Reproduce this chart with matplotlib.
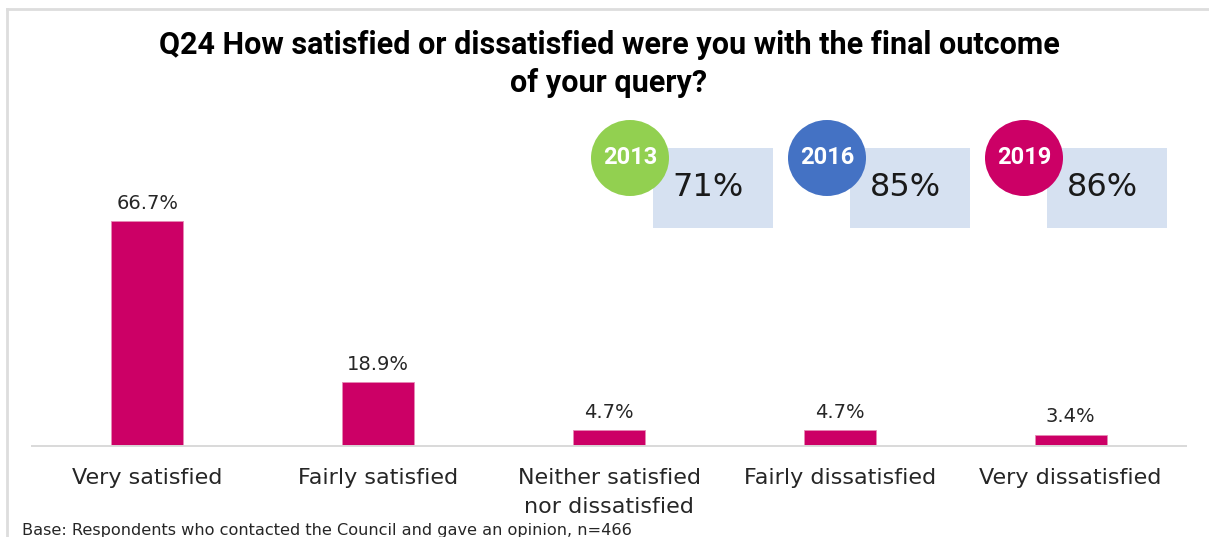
import matplotlib
matplotlib.use('Agg')
import matplotlib.pyplot as plt
from matplotlib.patches import Ellipse, Rectangle

categories = ['Very satisfied', 'Fairly satisfied', 'Neither satisfied\nnor dissatisfied',
              'Fairly dissatisfied', 'Very dissatisfied']
values = [66.7, 18.9, 4.7, 4.7, 3.4]

years = ['2013', '2016', '2019']
year_totals = ['71%', '85%', '86%']
year_colors = ['#92D050', '#4472C4', '#CC0066']

title = 'Q24 How satisfied or dissatisfied were you with the final outcome\nof your query?'
base_note = 'Base: Respondents who contacted the Council and gave an opinion, n=466'

W, H = 1209, 537
fig = plt.figure(figsize=(W / 100, H / 100), dpi=100, facecolor='white')

# bar chart area (pixel layout converted to figure fractions)
ax = fig.add_axes([32 / W, 1 - 446 / H, 1154 / W, 253 / H])
ax.bar(range(len(values)), values, width=0.312, color='#CC0066',
       edgecolor='#E58AB5', linewidth=0.6, zorder=2)
for i, v in enumerate(values):
    ax.annotate(f'{v:.1f}%', (i, v), xytext=(0, 6), textcoords='offset points',
                ha='center', va='bottom', fontsize=14, color='#262626',
                family='DejaVu Sans')
ax.set_xlim(-0.5, len(values) - 0.5)
ax.set_ylim(0, 75)
ax.set_xticks(range(len(categories)))
ax.set_xticklabels(categories, fontsize=16, color='#262626', family='DejaVu Sans',
                   linespacing=1.55)
ax.tick_params(axis='x', length=0, pad=16)
ax.set_yticks([])
for s in ['top', 'right', 'left']:
    ax.spines[s].set_visible(False)
ax.spines['bottom'].set_color('#D9D9D9')
ax.spines['bottom'].set_linewidth(1.4)
ax.patch.set_alpha(0)

# overlay in pixel coordinates for frame, title and the yearly badges
ov = fig.add_axes([0, 0, 1, 1])
ov.set_xlim(0, W)
ov.set_ylim(H, 0)
ov.axis('off')
ov.plot([7, W], [8.5, 8.5], color='#DDDDDD', lw=2)
ov.plot([7, 7], [8.5, H], color='#DDDDDD', lw=2)

ov.text(609, 64, title, ha='center', va='center', fontsize=22, fontweight='bold',
        family='Roboto', color='black', linespacing=1.3)

for k, (yr, pct, col) in enumerate(zip(years, year_totals, year_colors)):
    bx = 653 + k * 197
    ov.add_patch(Rectangle((bx, 148), 120, 80, color='#D6E1F1', lw=0))
    ov.add_patch(Ellipse((bx - 23, 158), 78, 76, color=col, lw=0))
    ov.text(bx - 23, 157, yr, ha='center', va='center', fontsize=17,
            fontweight='bold', family='Roboto', color='white')
    ov.text(bx + 55, 188, pct, ha='center', va='center', fontsize=23,
            family='DejaVu Sans', color='#1A1A1A')

ov.text(22, 523, base_note, ha='left', va='top', fontsize=11.6,
        family='DejaVu Sans', color='#262626')

fig.savefig('out.png', dpi=100, facecolor='white')
